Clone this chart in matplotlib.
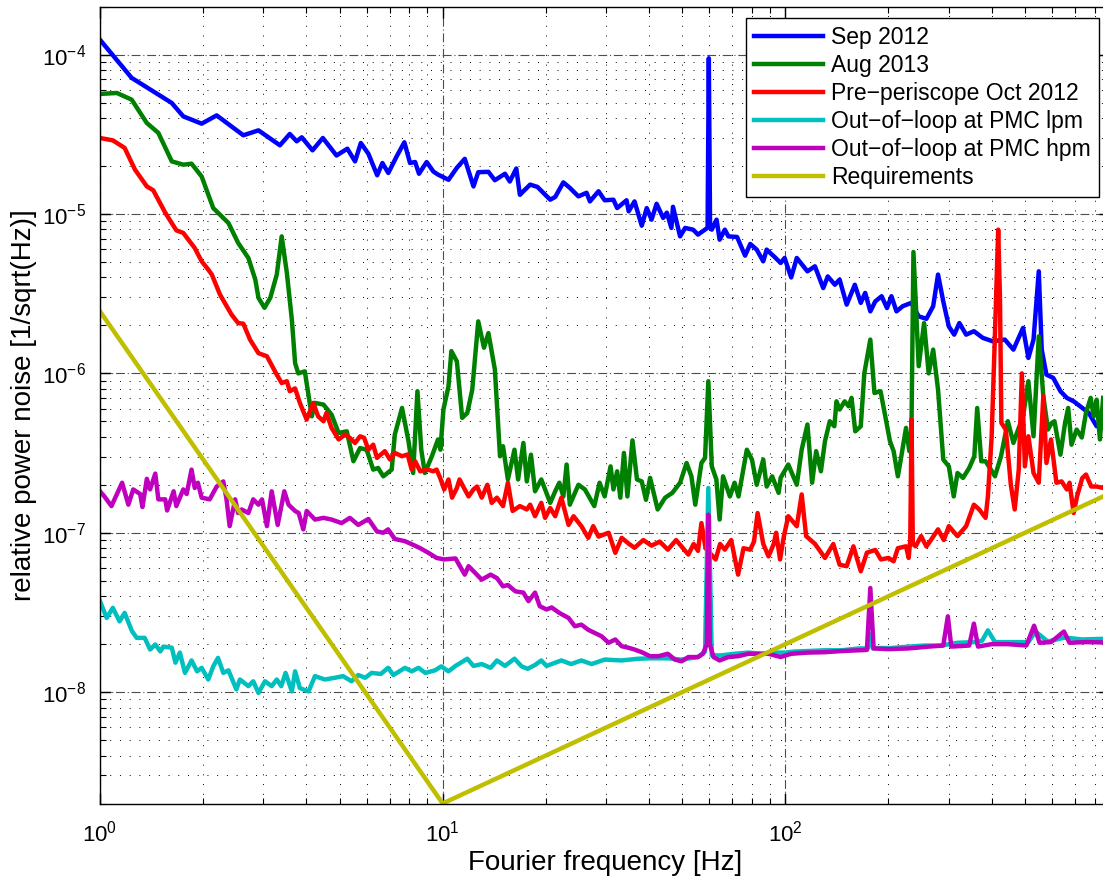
"""Relative power noise spectra vs. requirement (log-log, MATLAB look)."""

import matplotlib

matplotlib.use("Agg")
import matplotlib.pyplot as plt

plt.rcParams["font.family"] = ["Liberation Sans", "DejaVu Sans"]
plt.rcParams["mathtext.default"] = "regular"

# ---- data ----
sep2012_f = [1.0, 1.237, 1.619, 1.75, 1.98, 2.19, 2.62, 2.90, 3.35, 3.58, 3.75, 3.88, 4.17, 4.47,
             4.90, 5.27, 5.55, 5.77, 6.07, 6.44, 6.67, 6.94, 7.34, 7.73, 8.03, 8.31, 8.53, 8.98,
             9.39, 9.68, 10.4, 11.0, 11.6, 12.3, 12.7, 13.6, 14.2, 15.2, 15.7, 16.4, 16.8, 17.2,
             18.0, 18.9, 20.6, 21.3, 22.5, 23.5, 24.9, 26.3, 26.9, 28.5, 29.7, 31.5, 32.3, 34.4,
             34.9, 36.3, 38.1, 39.4, 40.7, 42.1, 44.0, 45.1, 46.5, 47.0, 49.3, 51.0, 53.8, 55.6,
             58.3, 59.3, 59.8, 60.3, 61.0, 63.0, 64.3, 66.6, 68.2, 72.3, 76.3, 79.0, 82.5, 86.2,
             88.2, 93.0, 96.9, 99.5, 104, 108, 116, 122, 129, 133, 139.5, 144, 151, 159.5, 166,
             171, 177, 183, 191, 198, 204, 211, 220, 233, 245, 258, 270, 279, 289, 300, 311, 322,
             337, 355, 377, 403, 437, 463, 494, 512, 530, 549, 560, 578, 605, 635, 663, 694, 725,
             768, 810, 846]
sep2012_v = [1.24e-4, 7.15e-5, 4.98e-5, 4.1e-5, 3.69e-5, 4.16e-5, 3.12e-5, 3.35e-5, 2.7e-5,
             3.18e-5, 2.86e-5, 3.03e-5, 2.51e-5, 3.0e-5, 2.33e-5, 2.57e-5, 2.14e-5, 2.79e-5,
             2.39e-5, 1.75e-5, 2.09e-5, 1.81e-5, 2.30e-5, 2.82e-5, 2.09e-5, 2.12e-5, 1.79e-5,
             2.12e-5, 1.85e-5, 1.77e-5, 1.64e-5, 1.95e-5, 2.22e-5, 1.49e-5, 1.83e-5, 1.84e-5,
             1.63e-5, 1.79e-5, 1.60e-5, 1.93e-5, 1.32e-5, 1.39e-5, 1.53e-5, 1.48e-5, 1.23e-5,
             1.28e-5, 1.58e-5, 1.46e-5, 1.29e-5, 1.36e-5, 1.20e-5, 1.39e-5, 1.22e-5, 1.23e-5,
             1.09e-5, 1.22e-5, 1.04e-5, 1.20e-5, 8.45e-6, 1.09e-5, 9.22e-6, 1.16e-5, 9.45e-6,
             1.02e-5, 8.18e-6, 1.11e-5, 7.24e-6, 8.18e-6, 7.98e-6, 7.43e-6, 7.98e-6, 8.2e-6,
             9.5e-5, 8.3e-6, 7.98e-6, 9.22e-6, 6.9e-6, 7.98e-6, 7.24e-6, 7.18e-6, 5.48e-6,
             6.49e-6, 5.98e-6, 5.05e-6, 5.98e-6, 5.38e-6, 4.93e-6, 5.3e-6, 4.0e-6, 5.3e-6,
             4.37e-6, 4.7e-6, 3.43e-6, 4.06e-6, 3.6e-6, 3.88e-6, 2.70e-6, 3.6e-6, 2.77e-6, 3.2e-6,
             2.45e-6, 2.83e-6, 3.05e-6, 2.57e-6, 3.05e-6, 2.45e-6, 2.64e-6, 2.77e-6, 2.28e-6,
             2.20e-6, 2.64e-6, 4.17e-6, 2.83e-6, 1.97e-6, 1.75e-6, 2.07e-6, 1.75e-6, 1.84e-6,
             1.67e-6, 1.59e-6, 1.63e-6, 1.41e-6, 1.93e-6, 1.25e-6, 1.63e-6, 4.37e-6, 1.41e-6,
             9.82e-7, 9.37e-7, 7.73e-7, 7.02e-7, 6.68e-7, 6.22e-7, 5.65e-7, 4.66e-7, 4.66e-7]

aug2013_f = [1.0, 1.12, 1.237, 1.369, 1.48, 1.62, 1.75, 1.85, 1.98, 2.14, 2.37, 2.53, 2.71, 2.84,
             2.90, 3.02, 3.14, 3.28, 3.39, 3.51, 3.63, 3.71, 3.79, 3.96, 4.15, 4.24, 4.49, 4.74,
             4.97, 5.25, 5.49, 5.74, 6.0, 6.27, 6.48, 6.71, 7.10, 7.25, 7.61, 7.95, 8.2, 8.44,
             8.66, 8.87, 9.30, 9.69, 9.85, 10.05, 10.4, 10.6, 11.0, 11.4, 11.8, 12.2, 12.7, 13.2,
             13.6, 14.2, 14.7, 15.0, 15.5, 16.2, 16.6, 17.2, 17.6, 18.1, 18.6, 19.4, 20.6, 21.3,
             21.9, 22.5, 23.0, 23.5, 24.9, 26.0, 27.7, 28.7, 29.7, 30.9, 31.5, 32.3, 33.0, 33.8,
             34.6, 35.8, 36.9, 38.1, 39.2, 40.3, 42.4, 44.6, 46.8, 49.3, 51.5, 53.2, 54.6, 56.9,
             58.3, 59.6, 61.0, 62.9, 64.3, 65.8, 68.9, 71.1, 73.0, 77.2, 79.9, 82.5, 86.2, 88.2,
             91.5, 95.6, 96.9, 102, 108, 111.6, 116, 119.7, 123, 127, 130.5, 134.8, 139, 141, 144,
             149, 153, 156, 160, 166, 170, 177, 182, 189.6, 202, 207, 213, 218, 225, 230, 233,
             236.5, 245, 254, 262, 270, 279, 289, 300, 310, 318, 330, 344, 356, 363, 373, 384,
             398, 409, 426, 446, 463, 474, 494, 512, 530, 549, 566, 584, 598, 610, 635, 655, 669,
             684, 708, 733, 754, 778, 794, 810, 828, 846]
aug2013_v = [5.67e-5, 5.75e-5, 5.22e-5, 3.73e-5, 3.23e-5, 2.14e-5, 2.04e-5, 2.07e-5, 1.72e-5,
             1.09e-5, 8.79e-6, 6.59e-6, 5.30e-6, 3.87e-6, 2.98e-6, 2.58e-6, 2.98e-6, 4.17e-6,
             7.24e-6, 4.27e-6, 2.17e-6, 1.16e-6, 1.0e-6, 1.03e-6, 5.38e-7, 6.53e-7, 6.37e-7,
             5.51e-7, 4.23e-7, 4.33e-7, 2.81e-7, 3.40e-7, 3.32e-7, 2.49e-7, 2.55e-7, 2.26e-7,
             2.49e-7, 4.13e-7, 6.07e-7, 3.75e-7, 2.37e-7, 7.73e-7, 3.32e-7, 2.37e-7, 3.02e-7,
             3.85e-7, 3.32e-7, 5.93e-7, 8.3e-7, 1.38e-6, 1.19e-6, 5.26e-7, 5.65e-7, 7.91e-7,
             2.12e-6, 1.45e-6, 1.79e-6, 1.06e-6, 3.02e-7, 3.49e-7, 2.16e-7, 3.32e-7, 2.16e-7,
             3.66e-7, 2.10e-7, 3.09e-7, 1.82e-7, 2.16e-7, 1.54e-7, 1.82e-7, 2.06e-7, 1.69e-7,
             2.68e-7, 1.50e-7, 2.0e-7, 1.87e-7, 1.47e-7, 2.06e-7, 1.69e-7, 2.61e-7, 1.87e-7,
             2.43e-7, 1.66e-7, 3.17e-7, 1.69e-7, 3.80e-7, 2.16e-7, 2.10e-7, 1.61e-7, 2.21e-7,
             1.40e-7, 1.66e-7, 1.78e-7, 2.06e-7, 2.74e-7, 2.26e-7, 1.50e-7, 2.74e-7, 2.95e-7,
             8.93e-7, 2.61e-7, 2.16e-7, 1.21e-7, 2.26e-7, 1.69e-7, 2.06e-7, 1.69e-7, 3.32e-7,
             2.88e-7, 2.0e-7, 2.88e-7, 1.95e-7, 2.26e-7, 1.78e-7, 2.21e-7, 2.68e-7, 2.0e-7,
             3.32e-7, 4.78e-7, 2.06e-7, 3.25e-7, 2.43e-7, 3.75e-7, 5.01e-7, 4.66e-7, 6.68e-7,
             5.93e-7, 6.68e-7, 6.22e-7, 7.02e-7, 4.33e-7, 4.66e-7, 1.0e-6, 1.63e-6, 7.53e-7,
             7.73e-7, 3.75e-7, 3.25e-7, 2.26e-7, 3.02e-7, 4.55e-7, 3.25e-7, 3.3e-7, 5.78e-6,
             1.11e-6, 2.07e-6, 1.0e-6, 1.41e-6, 7.91e-7, 2.88e-7, 2.61e-7, 1.69e-7, 2.37e-7,
             2.21e-7, 2.55e-7, 3.02e-7, 6.07e-7, 2.81e-7, 2.81e-7, 2.49e-7, 2.26e-7, 3.02e-7,
             5.01e-7, 3.66e-7, 4.23e-7, 5.38e-7, 8.93e-7, 4.03e-7, 1.71e-6, 7.2e-7, 4.44e-7,
             4.87e-7, 5.01e-7, 3.09e-7, 4.87e-7, 6.07e-7, 3.57e-7, 4.44e-7, 3.96e-7, 5.65e-7,
             7.02e-7, 5.38e-7, 6.84e-7, 3.85e-7, 7.02e-7]

preperi_f = [1.0, 1.09, 1.18, 1.265, 1.37, 1.43, 1.55, 1.67, 1.75, 1.89, 1.98, 2.07, 2.12, 2.24,
             2.42, 2.53, 2.62, 2.74, 2.90, 3.07, 3.28, 3.39, 3.51, 3.58, 3.71, 3.83, 4.01, 4.19,
             4.33, 4.49, 4.58, 4.74, 4.97, 5.19, 5.36, 5.55, 5.74, 5.9, 6.07, 6.27, 6.43, 6.78,
             7.02, 7.25, 7.61, 7.9, 8.12, 8.31, 8.6, 8.98, 9.39, 9.6, 9.84, 10.1, 10.4, 10.65,
             11.0, 11.2, 11.6, 11.9, 12.3, 12.6, 13.0, 13.5, 13.9, 14.4, 15.0, 15.5, 16.0, 16.8,
             17.6, 18.0, 18.6, 19.4, 19.9, 20.6, 21.3, 22.2, 23.3, 24.1, 25.4, 26.6, 27.5, 28.5,
             30.5, 31.9, 33.3, 35.0, 36.3, 38.5, 40.7, 43.0, 45.4, 48.0, 52.1, 54.0, 55.6, 56.9,
             58.5, 62.6, 64.5, 66.6, 69.5, 72.8, 75.5, 79.0, 81.0, 83.0, 86.2, 89.3, 92.5, 94.0,
             96.5, 99, 102, 108, 111.6, 115, 122, 130.5, 138, 144, 151, 158, 166, 173, 183, 190,
             200, 207, 213, 225, 229, 231.5, 233.5, 235.5, 240, 249, 258, 266, 279, 290, 300, 318,
             337, 355, 368, 384, 390, 400, 408, 418, 423, 427, 440, 455, 467, 480, 490, 500, 512,
             530, 549, 566, 578, 596, 618, 640, 663, 675, 694, 710, 735, 754, 781, 810, 846]
preperi_v = [3.0e-5, 2.9e-5, 2.6e-5, 1.90e-5, 1.49e-5, 1.41e-5, 1.02e-5, 7.9e-6, 7.61e-6, 6.12e-6,
             5.05e-6, 4.48e-6, 4.17e-6, 3.12e-6, 2.34e-6, 2.07e-6, 2.05e-6, 1.63e-6, 1.34e-6,
             1.28e-6, 9.82e-7, 8.70e-7, 8.93e-7, 7.73e-7, 8.05e-7, 6.53e-7, 5.13e-7, 6.53e-7,
             5.38e-7, 5.01e-7, 5.65e-7, 4.55e-7, 3.85e-7, 4.13e-7, 3.94e-7, 3.66e-7, 4.03e-7,
             3.94e-7, 3.32e-7, 3.57e-7, 2.95e-7, 3.25e-7, 2.88e-7, 3.17e-7, 3.02e-7, 3.1e-7,
             2.49e-7, 2.81e-7, 2.43e-7, 2.5e-7, 2.43e-7, 2.49e-7, 2.2e-7, 1.87e-7, 2.16e-7,
             1.66e-7, 1.91e-7, 2.16e-7, 1.87e-7, 1.69e-7, 1.87e-7, 1.95e-7, 1.66e-7, 2.0e-7,
             1.54e-7, 1.66e-7, 1.47e-7, 2.06e-7, 1.37e-7, 1.47e-7, 1.40e-7, 1.50e-7, 1.27e-7,
             1.54e-7, 1.24e-7, 1.43e-7, 1.27e-7, 1.66e-7, 1.12e-7, 1.27e-7, 1.10e-7, 9.29e-8,
             1.10e-7, 9.46e-8, 1.0e-7, 7.48e-8, 9.29e-8, 8.5e-8, 8.05e-8, 9.0e-8, 8.3e-8, 8.8e-8,
             7.83e-8, 9.0e-8, 7.3e-8, 8.5e-8, 7.7e-8, 1.15e-7, 8.0e-8, 6.8e-8, 8.5e-8, 7.83e-8,
             9.0e-8, 5.46e-8, 8.0e-8, 7.83e-8, 8.8e-8, 1.33e-7, 8.52e-8, 7.11e-8, 8.5e-8, 1.0e-7,
             6.8e-8, 9.5e-8, 1.27e-7, 1.10e-7, 1.74e-7, 9.52e-8, 8.52e-8, 6.95e-8, 8.5e-8, 6.3e-8,
             6.17e-8, 8.22e-8, 5.73e-8, 7.5e-8, 7.8e-8, 6.8e-8, 6.95e-8, 6.62e-8, 8.0e-8, 8.22e-8,
             6.95e-8, 9.0e-8, 5.13e-7, 8.5e-8, 8.22e-8, 9.52e-8, 8.2e-8, 9.0e-8, 1.05e-7, 9.0e-8,
             1.10e-7, 9.52e-8, 1.10e-7, 1.50e-7, 1.40e-7, 1.24e-7, 1.69e-7, 4.0e-7, 1.5e-6,
             7.98e-6, 3.0e-6, 4.89e-7, 4.44e-7, 2.0e-7, 1.40e-7, 2.5e-7, 1.0e-6, 2.61e-7, 4.03e-7,
             2.37e-7, 2.06e-7, 7.2e-7, 2.74e-7, 3.85e-7, 2.06e-7, 2.10e-7, 1.87e-7, 2.06e-7,
             1.33e-7, 1.69e-7, 2.2e-7, 2.32e-7, 1.95e-7, 1.95e-7, 1.91e-7]

lpm_f = [1.0, 1.046, 1.09, 1.14, 1.18, 1.24, 1.28, 1.35, 1.40, 1.45, 1.50, 1.53, 1.62, 1.66, 1.71,
         1.77, 1.85, 1.92, 1.98, 2.07, 2.14, 2.21, 2.29, 2.37, 2.50, 2.56, 2.71, 2.80, 2.90, 3.03,
         3.17, 3.28, 3.38, 3.48, 3.63, 3.71, 3.83, 4.06, 4.24, 4.53, 4.85, 5.12, 5.42, 5.67, 5.94,
         6.2, 6.6, 6.93, 7.18, 7.76, 8.12, 8.5, 8.9, 9.5, 9.9, 10.4, 10.9, 11.8, 12.3, 13.0, 13.8,
         14.4, 15.2, 16.2, 17.0, 17.7, 18.6, 19.4, 20.1, 22.2, 23.7, 25.4, 27.2, 29.7, 33.3, 37.2,
         40.7, 45.4, 49.8, 55.6, 58.3, 59.6, 61.0, 65.0, 71.0, 78.0, 85.0, 93.0, 100, 107, 116,
         130, 146, 164, 174, 177, 180, 183, 203, 229, 254, 285, 318, 355, 375, 390, 409, 446,
         512, 537, 583, 655, 735, 846]
lpm_v = [3.72e-8, 2.92e-8, 3.38e-8, 2.78e-8, 3.14e-8, 2.41e-8, 2.19e-8, 2.19e-8, 1.85e-8, 1.99e-8,
         1.80e-8, 1.93e-8, 1.9e-8, 1.53e-8, 1.77e-8, 1.32e-8, 1.58e-8, 1.35e-8, 1.42e-8, 1.2e-8,
         1.45e-8, 1.64e-8, 1.32e-8, 1.37e-8, 1.04e-8, 1.2e-8, 1.09e-8, 1.17e-8, 9.88e-9, 1.17e-8,
         1.09e-8, 1.2e-8, 1.09e-8, 1.32e-8, 1.01e-8, 1.35e-8, 1.06e-8, 1.01e-8, 1.26e-8, 1.2e-8,
         1.23e-8, 1.26e-8, 1.17e-8, 1.28e-8, 1.23e-8, 1.32e-8, 1.3e-8, 1.42e-8, 1.28e-8, 1.42e-8,
         1.35e-8, 1.42e-8, 1.32e-8, 1.37e-8, 1.45e-8, 1.35e-8, 1.46e-8, 1.62e-8, 1.46e-8, 1.5e-8,
         1.42e-8, 1.58e-8, 1.46e-8, 1.62e-8, 1.45e-8, 1.40e-8, 1.48e-8, 1.58e-8, 1.46e-8, 1.58e-8,
         1.5e-8, 1.58e-8, 1.5e-8, 1.6e-8, 1.58e-8, 1.62e-8, 1.63e-8, 1.63e-8, 1.6e-8, 1.66e-8,
         1.8e-8, 1.91e-7, 1.7e-8, 1.7e-8, 1.74e-8, 1.77e-8, 1.74e-8, 1.77e-8, 1.77e-8, 1.8e-8,
         1.81e-8, 1.83e-8, 1.83e-8, 1.88e-8, 1.88e-8, 2.3e-8, 1.88e-8, 1.89e-8, 1.89e-8, 1.93e-8,
         1.96e-8, 1.96e-8, 2.04e-8, 2.06e-8, 2.1e-8, 2.44e-8, 2.06e-8, 2.06e-8, 2.06e-8, 2.4e-8,
         2.08e-8, 2.2e-8, 2.14e-8, 2.16e-8]

hpm_f = [1.0, 1.03, 1.08, 1.16, 1.21, 1.25, 1.31, 1.33, 1.37, 1.40, 1.45, 1.48, 1.55, 1.57, 1.64,
         1.67, 1.75, 1.79, 1.85, 1.89, 1.93, 1.98, 2.09, 2.19, 2.29, 2.34, 2.39, 2.48, 2.53, 2.59,
         2.71, 2.80, 2.90, 2.97, 3.07, 3.17, 3.30, 3.45, 3.55, 3.71, 3.80, 3.92, 4.01, 4.24, 4.49,
         4.74, 5.07, 5.36, 5.67, 6.07, 6.43, 6.71, 6.93, 7.25, 7.76, 8.1, 8.6, 9.07, 9.6, 10.1,
         10.9, 11.6, 11.9, 13.0, 13.8, 14.4, 15.0, 15.5, 16.3, 17.2, 17.8, 18.6, 19.2, 20.1, 20.8,
         21.9, 23.3, 24.3, 25.4, 26.6, 27.8, 29.1, 30.5, 31.9, 33.3, 34.8, 36.3, 38.1, 40.3, 42.6,
         45.4, 47.6, 49.8, 52.1, 55.6, 57.5, 59.0, 59.6, 60.2, 61.7, 64.3, 68.2, 72.8, 78, 83.5,
         89.3, 96.9, 104, 116, 130, 146, 164, 173, 177, 181, 200, 229, 262, 289, 298, 305, 344,
         355, 365, 400, 446, 505, 532, 552, 596, 650, 675, 754, 846]
hpm_v = [1.82e-7, 1.69e-7, 1.47e-7, 2.06e-7, 1.50e-7, 1.87e-7, 1.75e-7, 1.45e-7, 2.18e-7, 1.87e-7,
         2.35e-7, 1.62e-7, 1.62e-7, 1.38e-7, 1.82e-7, 1.47e-7, 1.87e-7, 1.75e-7, 2.49e-7, 1.91e-7,
         2.06e-7, 1.66e-7, 1.62e-7, 1.95e-7, 2.10e-7, 1.62e-7, 1.10e-7, 1.62e-7, 1.33e-7, 1.40e-7,
         1.33e-7, 1.62e-7, 1.50e-7, 1.62e-7, 1.10e-7, 1.82e-7, 1.12e-7, 1.82e-7, 1.50e-7, 1.37e-7,
         1.33e-7, 1.05e-7, 1.37e-7, 1.21e-7, 1.24e-7, 1.21e-7, 1.15e-7, 1.24e-7, 1.12e-7, 1.22e-7,
         1.02e-7, 1.0e-7, 1.05e-7, 9.14e-8, 8.85e-8, 8.5e-8, 8.0e-8, 7.5e-8, 6.95e-8, 6.8e-8,
         6.9e-8, 5.46e-8, 6.17e-8, 5.08e-8, 5.46e-8, 5.19e-8, 4.61e-8, 4.7e-8, 4.29e-8, 4.21e-8,
         3.72e-8, 4.21e-8, 3.46e-8, 3.3e-8, 3.4e-8, 3.14e-8, 2.92e-8, 2.59e-8, 2.65e-8, 2.46e-8,
         2.35e-8, 2.24e-8, 2.04e-8, 2.14e-8, 1.94e-8, 1.9e-8, 1.85e-8, 1.78e-8, 1.68e-8, 1.68e-8,
         1.74e-8, 1.6e-8, 1.56e-8, 1.66e-8, 1.66e-8, 1.74e-8, 2.0e-8, 1.30e-7, 2.0e-8, 1.66e-8,
         1.58e-8, 1.66e-8, 1.68e-8, 1.74e-8, 1.74e-8, 1.74e-8, 1.66e-8, 1.74e-8, 1.77e-8, 1.78e-8,
         1.81e-8, 1.83e-8, 1.84e-8, 4.5e-8, 1.88e-8, 1.86e-8, 1.88e-8, 1.93e-8, 1.96e-8, 2.99e-8,
         1.93e-8, 1.96e-8, 2.69e-8, 1.93e-8, 2.0e-8, 2.0e-8, 1.96e-8, 2.61e-8, 2.04e-8, 2.06e-8,
         2.4e-8, 2.04e-8, 2.06e-8, 2.05e-8]

req_f = [1.0, 10.0, 886.0]
req_v = [2.45e-6, 2.0e-9, 1.77e-7]

SERIES = [
    ("Sep 2012", sep2012_f, sep2012_v, "#0000ff"),
    ("Aug 2013", aug2013_f, aug2013_v, "#008000"),
    ("Pre\u2212periscope Oct 2012", preperi_f, preperi_v, "#ff0000"),
    ("Out\u2212of\u2212loop at PMC lpm", lpm_f, lpm_v, "#00bfbf"),
    ("Out\u2212of\u2212loop at PMC hpm", hpm_f, hpm_v, "#bf00bf"),
    ("Requirements", req_f, req_v, "#bfbf00"),
]


def main() -> None:
    fig = plt.figure(figsize=(11.03, 8.80), dpi=100)
    ax = fig.add_axes([100 / 1103, 76.5 / 880, 1010 / 1103, 796.8 / 880])

    for label, f, v, color in SERIES:
        ax.loglog(f, v, color=color, linewidth=3.2, label=label, solid_joinstyle="round")

    ax.set_xlim(1, 886)
    ax.set_ylim(2e-9, 2e-4)

    ax.grid(True, which="major", linestyle=(0, (8, 2.5, 1, 2.5)), color="0.3", linewidth=0.8)
    ax.grid(True, which="minor", linestyle=(0, (1, 9)), color="black", linewidth=0.7)
    ax.set_axisbelow(True)

    ax.tick_params(which="both", direction="in", top=True, right=True, labelsize=16)
    ax.tick_params(which="major", length=8, width=1.0, pad=10)
    ax.tick_params(which="minor", length=4, width=0.8)
    ax.tick_params(axis="x", which="major", pad=12)
    for spine in ax.spines.values():
        spine.set_linewidth(1.0)

    ax.set_xlabel("Fourier frequency [Hz]", fontsize=20)
    ax.set_ylabel("relative power noise [1/sqrt(Hz)]", fontsize=20)
    ax.xaxis.set_label_coords(0.5, -0.058)
    ax.yaxis.set_label_coords(-0.062, 0.5)

    leg = ax.legend(loc="upper right", bbox_to_anchor=(0.989, 0.986), borderaxespad=0,
                    fontsize=16.5, fancybox=False, framealpha=1, edgecolor="black",
                    handlelength=3.0, handletextpad=0.35, labelspacing=0.22, borderpad=0.35)
    leg.get_frame().set_linewidth(1.0)

    fig.savefig("out.png", dpi=100)
    plt.close(fig)


if __name__ == "__main__":
    main()
